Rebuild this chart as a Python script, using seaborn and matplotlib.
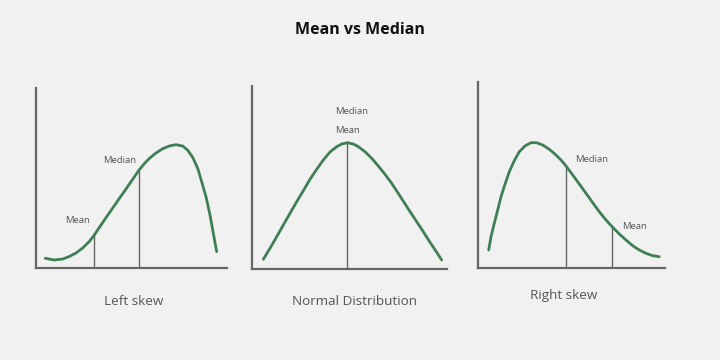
import matplotlib
matplotlib.use("Agg")
import matplotlib.pyplot as plt
import seaborn as sns
import pandas as pd

# ---------------- data (axis-relative units) ----------------
panel_titles = ["Left skew", "Normal Distribution", "Right skew"]
chart_title = "Mean vs Median"

# Left skew curve
left_x = [9.3, 18.3, 26.7, 33.3, 40, 46.7, 53.3, 58.3, 63.3, 70, 76.7, 83.3, 90, 96.7,
          102.7, 108, 113.3, 120, 126.7, 133.3, 140, 146.7, 151.7, 156.7, 161.7,
          165.7, 170, 174, 177.3, 180.7]
left_y = [9.7, 8, 9, 11.5, 15, 20, 26.5, 33, 40.5, 50.3, 60, 69.5, 79, 88.7,
          97.5, 104, 109.5, 115, 119.3, 122, 123.3, 122, 117.8, 110.7, 99.7,
          86.3, 71.3, 53, 34.7, 16.3]
left_marks_x = [58.3, 102.7]          # Mean, Median
left_marks_top = [33, 97.5]
left_marks_label = ["Mean", "Median"]

# Normal curve
norm_x = [11.3, 18, 24.7, 31.3, 38, 44.7, 51.3, 58, 64.7, 71.3, 78, 84.7, 89.7, 95.3,
          101.3, 106.3, 113, 119.7, 126.3, 133, 139.7, 148, 156.3, 164.7, 171.3,
          178, 184.7, 189.7]
norm_y = [9.7, 20.7, 32.3, 44, 55.7, 67.3, 78.3, 89.7, 99.7, 109, 117, 122.3, 125, 126.3,
          125, 122.3, 117.3, 110.7, 103, 94.7, 85.7, 73, 60, 47.3, 37.3,
          26.7, 16.7, 9]
norm_marks_x = [95.3]
norm_marks_top = [126.3]

# Right skew curve
right_x = [11.2, 13.5, 16.8, 20.2, 23.5, 27.8, 31.8, 36.8, 41.8, 47.8, 53.5, 59.2, 65.2,
           71.8, 78.5, 83.5, 88.5, 95.2, 101.8, 108.5, 115.2, 121.8, 128.5, 135.2,
           141.8, 148.5, 155.2, 161.8, 168.5, 175.2, 181.8]
right_y = [18, 31.3, 44.7, 58, 71.3, 84.7, 96.3, 107.3, 116.3, 122.3, 125.3, 125.3, 123,
           118.7, 113, 108, 102, 93, 84, 74.7, 65.3, 56.3, 48, 40.7,
           34, 28, 22.3, 18, 14.7, 12.3, 11.3]
right_marks_x = [88.5, 134.2]         # Median, Mean
right_marks_top = [102, 41.5]
right_marks_label = ["Median", "Mean"]

# ---------------- style ----------------
W, H = 720, 360
BG = "#f1f1f1"
GREEN = "#3f7f55"
LINE = "#666666"
TXT = "#555555"

sns.set_theme(style="white")
plt.rcParams["font.family"] = ["Open Sans", "DejaVu Sans"]

fig = plt.figure(figsize=(7.2, 3.6), dpi=100)
fig.patch.set_facecolor(BG)

# axes boxes in pixels: left, right, top, bottom
boxes = [(36, 227, 88, 268), (252, 447, 86, 269), (477.5, 665, 82, 268)]
axes = []
for (l, r, t, b) in boxes:
    ax = fig.add_axes([l / W, 1 - b / H, (r - l) / W, (b - t) / H])
    ax.set_xlim(0, r - l)
    ax.set_ylim(0, b - t)
    ax.set_facecolor(BG)
    for s in ["top", "right"]:
        ax.spines[s].set_visible(False)
    for s in ["left", "bottom"]:
        ax.spines[s].set_color(LINE)
        ax.spines[s].set_linewidth(1.6)
    ax.set_xticks([])
    ax.set_yticks([])
    axes.append(ax)

curves = [(left_x, left_y), (norm_x, norm_y), (right_x, right_y)]
for ax, (cx, cy) in zip(axes, curves):
    df = pd.DataFrame({"x": cx, "y": cy})
    sns.lineplot(data=df, x="x", y="y", ax=ax, color=GREEN, linewidth=2.0,
                 sort=False, estimator=None)
    ax.lines[-1].set_solid_joinstyle("round")
    ax.lines[-1].set_solid_capstyle("round")
    ax.set_xlabel("")
    ax.set_ylabel("")

marks = [(left_marks_x, left_marks_top), (norm_marks_x, norm_marks_top),
         (right_marks_x, right_marks_top)]
for ax, (mx, mt) in zip(axes, marks):
    for x, top in zip(mx, mt):
        ax.plot([x, x], [0, top], color=LINE, linewidth=1.0, zorder=1)

# small labels (figure pixel centres)
def ftext(x, y, s, **kw):
    fig.text(x / W, 1 - y / H, s, ha="center", va="center", **kw)

small = dict(fontsize=6.8, color=TXT)
ftext(77.7, 220, left_marks_label[0], **small)
ftext(119.3, 160.5, left_marks_label[1], **small)
ftext(351.8, 112, "Median", **small)
ftext(347, 130, "Mean", **small)
ftext(591.3, 159.3, right_marks_label[0], **small)
ftext(634.3, 226.5, right_marks_label[1], **small)

sub = dict(fontsize=9.7, color="#555555")
ftext(134, 301.5, panel_titles[0], **sub)
ftext(354, 301.5, panel_titles[1], **sub)
ftext(564, 296, panel_titles[2], **sub)

ftext(360, 30.5, chart_title, fontsize=11.5, fontweight="bold", color="#111111")

fig.savefig("out.png", dpi=100, facecolor=BG)
